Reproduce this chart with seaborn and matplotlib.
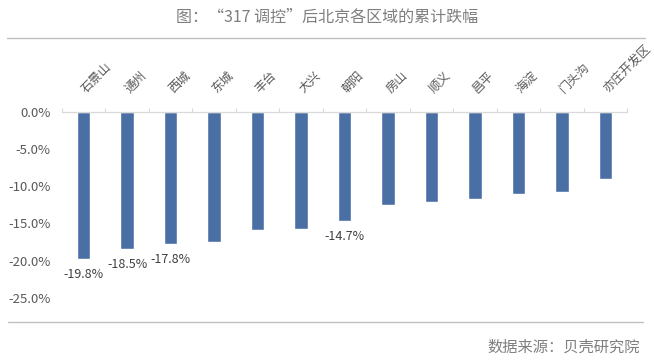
import matplotlib
matplotlib.use('Agg')
import matplotlib.pyplot as plt
import matplotlib.transforms as mtransforms
import seaborn as sns
import pandas as pd
from matplotlib.lines import Line2D
from matplotlib.ticker import FuncFormatter, FixedLocator

# Data
districts = ['石景山', '通州', '西城', '东城', '丰台', '大兴', '朝阳',
             '房山', '顺义', '昌平', '海淀', '门头沟', '亦庄开发区']
change = [-19.8, -18.5, -17.8, -17.5, -15.9, -15.7, -14.7,
          -12.6, -12.1, -11.8, -11.1, -10.8, -9.0]
labelled = ['石景山', '通州', '西城', '朝阳']

df = pd.DataFrame({'district': districts, 'change': change})

sns.set_style('white')
plt.rcParams['font.family'] = ['Noto Sans CJK SC', 'DejaVu Sans']
plt.rcParams['axes.unicode_minus'] = False

text_color = '#595959'
bar_color = '#4A6FA5'

fig = plt.figure(figsize=(6.54, 3.62), dpi=100)
ax = fig.add_axes([62 / 654, 1 - 297.7 / 362, (627 - 62) / 654, (297.7 - 111.7) / 362])

sns.barplot(data=df, x='district', y='change', color=bar_color, width=0.31,
            saturation=1, ax=ax)

ax.set_ylim(-25, 0)
ax.set_xlim(-0.5, len(districts) - 0.5)
ax.set_yticks([0, -5, -10, -15, -20, -25])
ax.yaxis.set_major_formatter(FuncFormatter(lambda v, _: f'{v:.1f}%'))
ax.tick_params(axis='y', length=0, labelsize=9.5, labelcolor=text_color, pad=8)

# category labels on top, rotated
ax.xaxis.tick_top()
ax.set_xticks(range(len(districts)))
ax.set_xticklabels(districts, rotation=45, ha='left', va='center',
                   rotation_mode='anchor', fontsize=8.8, color=text_color)
shift = mtransforms.ScaledTranslation(2 / 100, 0, fig.dpi_scale_trans)
for lbl in ax.get_xticklabels():
    lbl.set_transform(lbl.get_transform() + shift)
ax.tick_params(axis='x', which='major', length=0, pad=15)
ax.xaxis.set_minor_locator(FixedLocator([i - 0.5 for i in range(len(districts) + 1)]))
ax.tick_params(axis='x', which='minor', top=True, bottom=False, length=3,
               width=0.8, color='#d9d9d9', direction='out')
ax.set_xlabel('')
ax.set_ylabel('')

for side in ['left', 'right', 'bottom']:
    ax.spines[side].set_visible(False)
ax.spines['top'].set_color('#d9d9d9')
ax.spines['top'].set_linewidth(0.9)

# value labels below selected bars
for i, (d, v) in enumerate(zip(districts, change)):
    if d in labelled:
        ax.annotate(f'{v:.1f}%', (i, v), xytext=(0, -11), textcoords='offset points',
                    ha='center', va='center', fontsize=9, color='#404040',
                    annotation_clip=False)

# title, rules and source
fig.text(0.5, 1 - 17 / 362, '图：“317 调控”后北京各区域的累计跌幅', ha='center', va='center',
         fontsize=11.5, color='#7f7f7f')
fig.add_artist(Line2D([7 / 654, 645 / 654], [1 - 38 / 362] * 2, color='#c0c0c0', lw=1))
fig.add_artist(Line2D([8 / 654, 643 / 654], [1 - 322 / 362] * 2, color='#c0c0c0', lw=1))
fig.text(640 / 654, 1 - 347 / 362, '数据来源：贝壳研究院', ha='right', va='center',
         fontsize=11, color='#7f7f7f')

fig.savefig('out.png', dpi=100)
